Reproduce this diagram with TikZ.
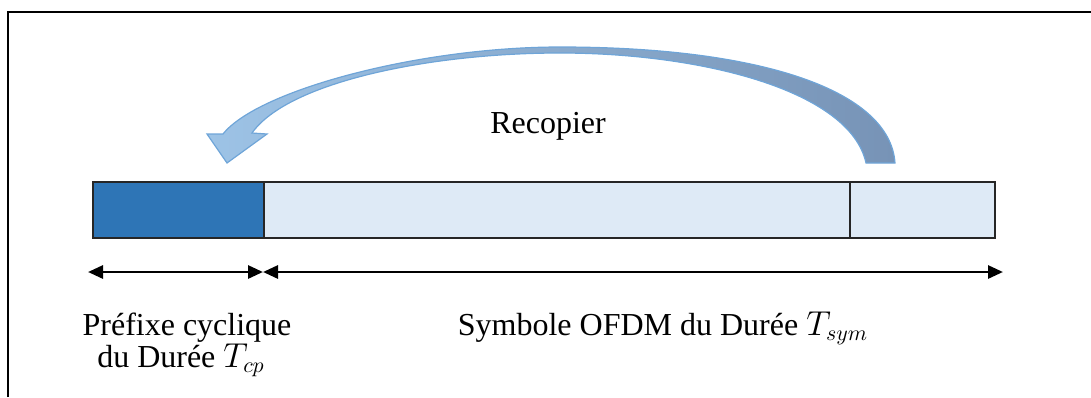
\documentclass[tikz,border=0pt]{standalone}
\usepackage{amsmath,amssymb}
\usepackage{fontspec}
\setmainfont{Liberation Serif}
\usepackage{tikz}
\usetikzlibrary{arrows.meta}
\definecolor{cpblue}{HTML}{2E75B6}
\definecolor{symblue}{HTML}{DEEAF6}
\definecolor{arclight}{HTML}{9DC3E6}
\definecolor{arcdark}{HTML}{7793B6}
\definecolor{arcedge}{HTML}{6FA5D8}

\begin{document}
\begin{tikzpicture}[x=0.5pt,y=-0.5pt,line join=miter,
                    font=\fontsize{16}{20}\selectfont]
  \tikzstyle{every node}=[inner sep=0pt]
  \tikzstyle{cell}=[draw=black!85,line width=1pt,minimum height=28pt]
  \tikzstyle{lbl}=[anchor=base]
  \tikzstyle{dim}=[{Triangle[length=7.5pt,width=6.5pt]}-{Triangle[length=7.5pt,width=6.5pt]},
                   line width=1.4pt]
  \useasboundingbox (0,0) rectangle (1091,397);
  \draw[line width=1pt] (8,397) -- (8,12) -- (1091,12);

  \shade[left color=arclight,right color=arcdark,draw=arcedge,line width=0.6pt]
    (223,134) .. controls (258,90) and (420,47) .. (560,47)
    .. controls (760,47) and (890,90) .. (895,163) -- (866,163)
    .. controls (850,90) and (700,53) .. (560,53)
    .. controls (430,53) and (288,82) .. (252,133)
    -- (267,134) -- (227,163) -- (207,134) -- cycle;
  \node (rec) at (548,126) {Recopier};

  \node[cell,fill=cpblue,minimum width=85.5pt] (cp) at (178.5,210) {};
  \node[cell,fill=symblue,minimum width=293pt] (sym) at (557,210) {};
  \node[cell,fill=symblue,minimum width=72.5pt] (fin) at (922.5,210) {};

  \coordinate (d1) at (88,272);
  \coordinate (d2) at (263,272);
  \coordinate (d3) at (1003,272);
  \draw[dim] (d1) -- (d2);
  \draw[dim] (d2) -- (d3);

  \node[lbl] (cpl) at (187,335) {Préfixe cyclique};
  \node[lbl] (cpt) at (181,367) {du Durée $T_{cp}$};
  \node[lbl] (syml) at (663,335) {Symbole OFDM du Durée $T_{sym}$};
\end{tikzpicture}
\end{document}
